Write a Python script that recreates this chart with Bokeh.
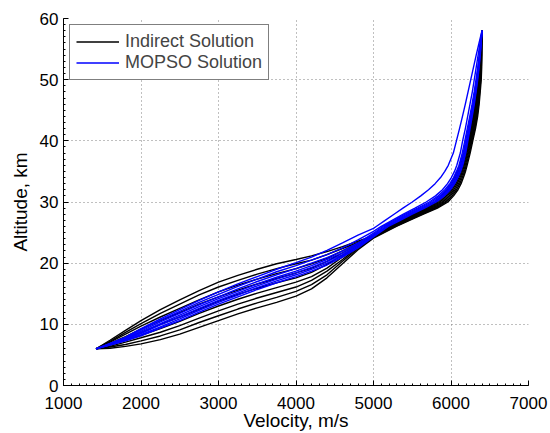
from bokeh.plotting import figure
from bokeh.models import Range1d, SingleIntervalTicker
from bokeh.embed import file_html
from bokeh.resources import INLINE

# Shared velocity grid (m/s) for the lower, shallow part of every trajectory
velocity_low = [1420, 1600, 1800, 2000, 2250, 2500, 2750, 3000, 3250, 3500,
                3750, 4000, 4200, 4400, 4600, 4800, 5000]
# Shared altitude grid (km) for the upper, steep part of every trajectory
altitude_high = [26, 27, 28, 29, 30, 31, 32, 33, 34, 35, 36, 38, 40, 42, 44,
                 46, 48, 50, 52, 54, 56, 58]

# Indirect solutions: altitude (km) at velocity_low
indirect_alt_low = [
    [6.0, 7.4, 9.0, 10.6, 12.4, 14.0, 15.5, 16.9, 18.0, 19.0, 19.9, 20.6, 21.2, 21.9, 22.7, 23.6, 24.5],
    [6.0, 7.2, 8.7, 10.1, 11.8, 13.3, 14.8, 16.1, 17.2, 18.2, 19.1, 19.9, 20.5, 21.4, 22.4, 23.4, 24.5],
    [6.0, 7.1, 8.4, 9.7, 11.2, 12.6, 14.0, 15.3, 16.4, 17.4, 18.3, 19.1, 19.9, 20.8, 22.0, 23.3, 24.4],
    [6.0, 6.9, 8.0, 9.2, 10.6, 11.9, 13.3, 14.5, 15.6, 16.6, 17.5, 18.4, 19.2, 20.3, 21.7, 23.1, 24.4],
    [6.0, 6.8, 7.7, 8.7, 10.0, 11.2, 12.5, 13.8, 14.9, 15.9, 16.8, 17.6, 18.5, 19.8, 21.3, 22.9, 24.3],
    [6.0, 6.6, 7.4, 8.2, 9.3, 10.5, 11.8, 13.0, 14.1, 15.1, 16.0, 16.9, 17.8, 19.2, 21.0, 22.7, 24.3],
    [6.0, 6.4, 7.1, 7.8, 8.7, 9.8, 11.0, 12.2, 13.3, 14.3, 15.2, 16.1, 17.2, 18.7, 20.6, 22.6, 24.2],
    [6.0, 6.3, 6.7, 7.3, 8.1, 9.1, 10.3, 11.4, 12.5, 13.5, 14.4, 15.4, 16.5, 18.1, 20.3, 22.4, 24.2],
    [6.0, 6.1, 6.4, 6.8, 7.5, 8.4, 9.5, 10.6, 11.7, 12.7, 13.6, 14.6, 15.8, 17.6, 19.9, 22.2, 24.1],
]
# Indirect solutions: velocity (m/s) at altitude_high
indirect_vel_high = [
    [5205, 5355, 5515, 5675, 5800, 5877, 5946, 6000, 6044, 6083, 6112, 6163, 6209, 6248, 6280, 6303, 6323, 6340, 6356, 6371, 6386, 6400],
    [5216, 5369, 5531, 5694, 5820, 5897, 5964, 6016, 6059, 6096, 6124, 6174, 6218, 6257, 6288, 6311, 6330, 6346, 6361, 6375, 6388, 6400],
    [5228, 5383, 5548, 5713, 5840, 5916, 5982, 6033, 6073, 6109, 6136, 6184, 6227, 6265, 6296, 6318, 6337, 6353, 6366, 6378, 6390, 6400],
    [5239, 5396, 5564, 5731, 5860, 5936, 6000, 6049, 6088, 6122, 6148, 6195, 6236, 6274, 6304, 6326, 6343, 6359, 6371, 6382, 6391, 6400],
    [5250, 5410, 5580, 5750, 5880, 5955, 6018, 6065, 6102, 6135, 6160, 6205, 6245, 6282, 6312, 6333, 6350, 6365, 6376, 6385, 6393, 6400],
    [5261, 5424, 5596, 5769, 5900, 5975, 6036, 6081, 6117, 6148, 6172, 6216, 6254, 6291, 6320, 6341, 6357, 6371, 6381, 6389, 6395, 6400],
    [5273, 5438, 5613, 5788, 5920, 5994, 6054, 6098, 6131, 6161, 6184, 6226, 6263, 6299, 6328, 6348, 6364, 6378, 6386, 6392, 6397, 6400],
    [5284, 5451, 5629, 5806, 5940, 6014, 6072, 6114, 6146, 6174, 6196, 6237, 6272, 6308, 6336, 6356, 6370, 6384, 6391, 6396, 6398, 6400],
    [5295, 5465, 5645, 5825, 5960, 6033, 6090, 6130, 6160, 6187, 6208, 6247, 6281, 6316, 6344, 6363, 6377, 6390, 6396, 6399, 6400, 6400],
]

# MOPSO solutions: altitude (km) at velocity_low
mopso_alt_low = [
    [6.0, 6.9, 7.9, 9.3, 10.9, 12.4, 13.9, 15.3, 16.6, 17.8, 19.0, 20.1, 21.0, 22.1, 23.3, 24.6, 25.7],
    [6.0, 6.85, 7.8, 9.1, 10.7, 12.1, 13.6, 14.9, 16.2, 17.4, 18.6, 19.6, 20.5, 21.4, 22.5, 23.8, 25.2],
    [6.0, 6.8, 7.7, 8.9, 10.4, 11.8, 13.2, 14.5, 15.8, 17.0, 18.1, 19.1, 20.0, 20.9, 22.0, 23.3, 24.9],
    [6.0, 6.75, 7.6, 8.7, 10.1, 11.5, 12.9, 14.2, 15.4, 16.6, 17.7, 18.7, 19.6, 20.6, 21.7, 23.1, 24.7],
    [6.0, 6.7, 7.5, 8.5, 9.9, 11.2, 12.6, 13.9, 15.1, 16.3, 17.4, 18.4, 19.3, 20.3, 21.4, 22.9, 24.5],
    [6.0, 6.65, 7.4, 8.3, 9.6, 10.9, 12.3, 13.6, 14.8, 16.0, 17.1, 18.1, 19.0, 20.0, 21.2, 22.7, 24.4],
    [6.0, 6.6, 7.3, 8.1, 9.4, 10.6, 12.0, 13.3, 14.5, 15.7, 16.8, 17.8, 18.7, 19.7, 21.0, 22.5, 24.3],
]
# MOPSO solutions: velocity (m/s) at altitude_high
mopso_vel_high = [
    [5035, 5150, 5265, 5380, 5500, 5610, 5710, 5795, 5865, 5920, 5965, 6030, 6070, 6110, 6148, 6185, 6220, 6255, 6290, 6325, 6362, 6400],
    [5100, 5240, 5385, 5535, 5680, 5800, 5890, 5955, 6005, 6045, 6075, 6120, 6150, 6185, 6215, 6245, 6275, 6300, 6325, 6350, 6375, 6400],
    [5120, 5265, 5410, 5570, 5720, 5835, 5920, 5985, 6033, 6070, 6103, 6145, 6178, 6210, 6242, 6272, 6299, 6323, 6345, 6365, 6383, 6400],
    [5140, 5288, 5435, 5595, 5745, 5858, 5940, 6003, 6049, 6085, 6116, 6158, 6189, 6220, 6251, 6280, 6306, 6329, 6350, 6368, 6385, 6400],
    [5160, 5310, 5460, 5620, 5770, 5880, 5960, 6020, 6065, 6100, 6130, 6170, 6200, 6230, 6260, 6288, 6313, 6335, 6355, 6372, 6387, 6400],
    [5176, 5328, 5480, 5640, 5790, 5898, 5976, 6034, 6078, 6112, 6141, 6180, 6209, 6238, 6267, 6294, 6319, 6340, 6359, 6375, 6389, 6400],
    [5192, 5346, 5500, 5660, 5810, 5916, 5992, 6048, 6091, 6124, 6152, 6190, 6218, 6246, 6274, 6301, 6324, 6345, 6363, 6378, 6390, 6400],
]

series_labels = ["Indirect Solution", "MOPSO Solution"]
x_label = "Velocity, m/s"
y_label = "Altitude, km"
x_ticks_interval = 1000
y_ticks_interval = 10


def build(lows, highs):
    xs, ys = [], []
    for lo, hi in zip(lows, highs):
        xs.append(list(velocity_low) + list(hi))
        ys.append(list(lo) + list(altitude_high))
    return xs, ys


FONT = "Liberation Sans"

p = figure(width=550, height=433, output_backend="svg", toolbar_location=None,
           x_range=Range1d(1000, 7000), y_range=Range1d(0, 60),
           min_border_left=63, min_border_right=22, min_border_top=18,
           min_border_bottom=0)
p.outline_line_color = None
p.background_fill_color = "white"
p.border_fill_color = "white"

ix, iy = build(indirect_alt_low, indirect_vel_high)
mx, my = build(mopso_alt_low, mopso_vel_high)

p.multi_line(ix, iy, line_color="black", line_width=1.4, legend_label=series_labels[0])
p.multi_line(mx, my, line_color="#0000FF", line_width=1.4, legend_label=series_labels[1])

p.xaxis.ticker = SingleIntervalTicker(interval=x_ticks_interval, num_minor_ticks=10)
p.yaxis.ticker = SingleIntervalTicker(interval=y_ticks_interval, num_minor_ticks=10)

p.xaxis.axis_label = x_label
p.yaxis.axis_label = y_label

for ax in p.axis:
    ax.axis_line_color = "black"
    ax.axis_line_width = 1
    ax.major_tick_in = 5
    ax.major_tick_out = 0
    ax.minor_tick_in = 2
    ax.minor_tick_out = 0
    ax.major_tick_line_color = "black"
    ax.minor_tick_line_color = "black"
    ax.major_label_text_font = FONT
    ax.major_label_text_font_size = "17px"
    ax.major_label_text_color = "black"
    ax.axis_label_text_font = FONT
    ax.axis_label_text_font_size = "19px"
    ax.axis_label_text_font_style = "normal"
    ax.axis_label_text_color = "black"

p.xaxis.major_label_standoff = 11
p.xaxis.axis_label_standoff = -2
p.yaxis.major_label_standoff = 5
p.yaxis.axis_label_standoff = 6

for g in (p.xgrid, p.ygrid):
    g.grid_line_color = "#808080"
    g.grid_line_dash = "1 3"
    g.grid_line_width = 1

lg = p.legend[0]
lg.location = "top_left"
lg.margin = 6
lg.padding = 6
lg.spacing = 0
lg.border_line_color = "black"
lg.border_line_width = 1
lg.background_fill_color = "white"
lg.background_fill_alpha = 1
lg.label_text_font = FONT
lg.label_text_font_size = "18px"
lg.glyph_width = 43
lg.glyph_height = 17
lg.label_height = 17
lg.label_standoff = 6

open("out.html", "w").write(file_html(p, INLINE))
